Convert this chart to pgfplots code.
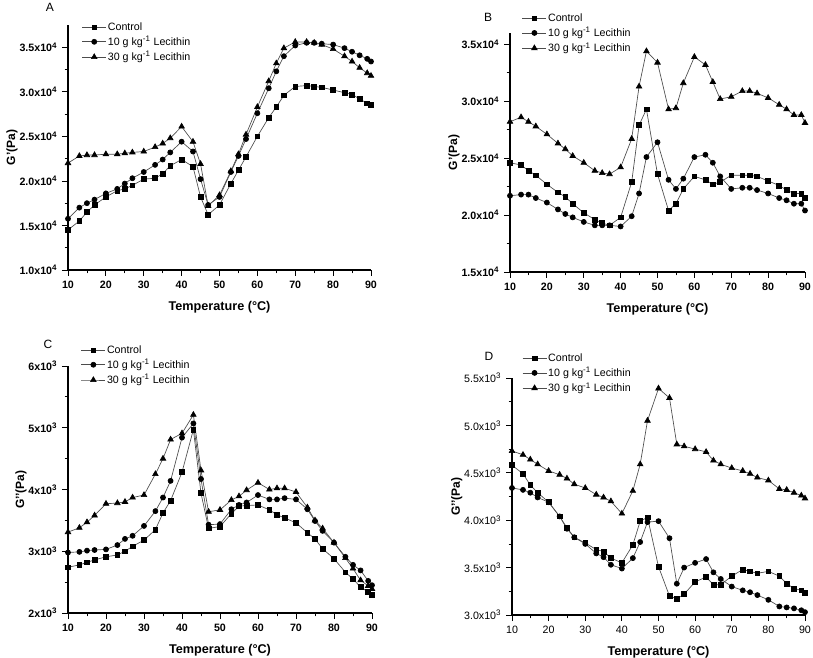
\documentclass[border=0pt]{standalone}
\usepackage{fontspec}
\setmainfont{Liberation Sans}
\usepackage{pgfplots}
\usepackage{pgfplotstable}
\pgfplotsset{compat=1.18}

% G' (Pa): T, control, 10 g/kg, 30 g/kg lecithin
\pgfplotstableread{
T ctrl l10 l30
10 14500 15750 22000
13 15500 17000 22800
15 16500 17500 22900
17 17300 17900 22900
20 18200 18600 23000
23 18900 19100 23000
25 19100 19700 23100
27 19500 20300 23200
30 20200 21000 23300
33 20300 21800 23800
35 20800 22400 24200
37 21700 23200 24800
40 22400 24400 26100
43 21600 23300 24400
45 18200 20200 21900
47 16200 17300 17200
50 17300 18200 18400
53 19700 21000 21100
55 21200 22800 23000
57 22700 24700 25200
60 25000 27600 28300
63 27100 30400 31200
65 28300 32300 33200
67 29600 34000 34900
70 30600 35200 35600
73 30700 35500 35600
75 30600 35500 35500
77 30500 35400 35300
80 30200 35300 34800
83 29900 34900 34000
85 29700 34500 33400
87 29200 34100 32700
89 28700 33700 32100
90 28500 33400 31800
}\dataA

\pgfplotstableread{
T ctrl l10 l30
10 24600 21700 28200
13 24400 21800 28600
15 23900 21800 28200
17 23500 21500 27800
20 22700 21100 27100
23 22000 20500 26300
25 21600 20100 25800
27 21000 19800 25200
30 20200 19400 24600
33 19600 19100 23900
35 19300 19100 23700
37 19100 19100 23600
40 19800 19000 24200
43 22900 19900 26700
45 27900 21900 31300
47 29300 25100 34400
50 23600 26400 33400
53 20400 23100 29300
55 21000 22300 29400
57 22300 23200 31600
60 23400 25100 33900
63 23100 25300 33200
65 22700 24600 31700
67 22900 23400 30200
70 23500 22300 30400
73 23500 22400 30900
75 23500 22400 30900
77 23400 22200 30700
80 23000 21900 30300
83 22600 21500 29700
85 22200 21300 29300
87 21900 21000 28800
89 21900 21000 28800
90 21500 20400 28100
}\dataB

% G'' (Pa)
\pgfplotstableread{
T ctrl l10 l30
10 2740 2980 3310
13 2780 2990 3380
15 2820 3010 3470
17 2860 3020 3580
20 2910 3030 3770
23 2940 3100 3780
25 3000 3200 3800
27 3080 3250 3870
30 3180 3410 3910
33 3350 3650 4250
35 3620 3870 4500
37 3820 4140 4810
40 4280 4840 4910
43 4970 5070 5210
45 3940 4170 4310
47 3370 3430 3640
50 3400 3440 3670
53 3610 3680 3830
55 3730 3750 3890
57 3740 3790 3990
60 3750 3910 4110
63 3670 3840 4000
65 3590 3840 4020
67 3540 3860 4020
70 3460 3840 3960
73 3300 3680 3710
75 3200 3490 3500
77 3040 3330 3370
80 2880 3140 3140
83 2660 2910 2890
85 2550 2780 2720
87 2420 2690 2530
89 2340 2520 2440
90 2290 2450 2390
}\dataC

\pgfplotstableread{
T ctrl l10 l30
10 4580 4340 4730
13 4490 4320 4690
15 4370 4290 4640
17 4290 4240 4590
20 4190 4190 4520
23 4040 4040 4480
25 3920 3910 4440
27 3820 3820 4380
30 3760 3750 4340
33 3690 3650 4270
35 3670 3610 4240
37 3600 3530 4200
40 3550 3490 4070
43 3740 3600 4310
45 3990 3770 4590
47 4030 3980 5050
50 3510 3990 5390
53 3200 3810 5290
55 3170 3330 4800
57 3220 3500 4780
60 3350 3550 4750
63 3400 3590 4720
65 3320 3450 4630
67 3320 3380 4590
70 3410 3300 4550
73 3480 3260 4520
75 3460 3240 4490
77 3440 3210 4450
80 3460 3160 4420
83 3410 3090 4330
85 3330 3080 4320
87 3280 3070 4290
89 3260 3050 4260
90 3230 3030 4230
}\dataD

\newcommand{\lab}{\fontsize{8}{9}\selectfont}
\pgfplotsset{
  panel/.style={
    scale only axis, anchor=south west,
    axis lines*=left,
    xmin=10, xmax=90,
    xtick={10,20,...,90},
    xticklabels={10,20,30,40,50,60,70,80,90},
    scaled y ticks=false,
    minor x tick num=1, minor y tick num=1,
    tick align=outside,
    major tick length=4.5pt, minor tick length=2.5pt,
    axis line style={line width=0.8pt},
    every tick/.style={black, line width=0.6pt},
    tick label style={font=\bfseries\lab},
    xlabel={Temperature (°C)},
    xlabel style={font=\bfseries\fontsize{9.5}{11}\selectfont, yshift=-3pt},
    ylabel style={font=\bfseries\fontsize{9}{10}\selectfont, yshift=-5.5pt},
    legend style={draw=none, fill=none, font=\lab, anchor=north west,
      inner sep=0pt, row sep=1pt, nodes={inner sep=1pt}},
    legend cell align=left,
    legend image code/.code={
      \draw[mark repeat=2, mark phase=2, #1]
        plot coordinates {(0pt,0pt) (9pt,0pt) (18pt,0pt)};},
    every axis plot/.append style={line width=0.5pt, black!70,
      mark options={solid, fill=black, draw=black}},
  },
  sq/.style={mark=square*, mark size=1.8pt},
  ci/.style={mark=*, mark size=1.9pt},
  tr/.style={mark=triangle*, mark size=2.4pt},
}

\begin{document}
\begin{tikzpicture}
\path[use as bounding box] (0,0) rectangle (609.75pt,492.75pt);

% A
\begin{axis}[panel, at={(51pt,290.25pt)}, width=227.25pt, height=183.75pt,
  ymin=10000, ymax=37500,
  ytick={10000,15000,20000,25000,30000,35000},
  yticklabels={1.0x10\textsuperscript{4},1.5x10\textsuperscript{4},2.0x10\textsuperscript{4},2.5x10\textsuperscript{4},3.0x10\textsuperscript{4},3.5x10\textsuperscript{4}},
  ylabel={G'(Pa)},
  legend style={at={(axis description cs:0.045,1.017)}},
]
\addplot[sq] table[x=T,y=ctrl] {\dataA};
\addplot[ci] table[x=T,y=l10] {\dataA};
\addplot[tr] table[x=T,y=l30] {\dataA};
\legend{Control, 10 g kg\textsuperscript{-1} Lecithin, 30 g kg\textsuperscript{-1} Lecithin}
\end{axis}

% B
\begin{axis}[panel, at={(382.5pt,288.75pt)}, width=221.25pt, height=179.25pt,
  ymin=15000, ymax=36000,
  ytick={15000,20000,25000,30000,35000},
  yticklabels={1.5x10\textsuperscript{4},2.0x10\textsuperscript{4},2.5x10\textsuperscript{4},3.0x10\textsuperscript{4},3.5x10\textsuperscript{4}},
  ylabel={G'(Pa)},
  legend style={at={(axis description cs:0.04,1.088)}},
]
\addplot[sq] table[x=T,y=ctrl] {\dataB};
\addplot[ci] table[x=T,y=l10] {\dataB};
\addplot[tr] table[x=T,y=l30] {\dataB};
\legend{Control, 10 g kg\textsuperscript{-1} Lecithin, 30 g kg\textsuperscript{-1} Lecithin}
\end{axis}

% C
\begin{axis}[panel, at={(51pt,33pt)}, width=228pt, height=185.25pt,
  ymin=2000, ymax=6000,
  ytick={2000,3000,4000,5000,6000},
  yticklabels={2x10\textsuperscript{3},3x10\textsuperscript{3},4x10\textsuperscript{3},5x10\textsuperscript{3},6x10\textsuperscript{3}},
  ylabel={G{'}{'}(Pa)},
  legend style={at={(axis description cs:0.042,1.09)}},
]
\addplot[sq] table[x=T,y=ctrl] {\dataC};
\addplot[ci] table[x=T,y=l10] {\dataC};
\addplot[tr] table[x=T,y=l30] {\dataC};
\legend{Control, 10 g kg\textsuperscript{-1} Lecithin, 30 g kg\textsuperscript{-1} Lecithin}
\end{axis}

% D
\begin{axis}[panel, at={(384pt,31.5pt)}, width=219.75pt, height=177.75pt,
  ymin=3000, ymax=5500,
  ytick={3000,3500,4000,4500,5000,5500},
  yticklabels={3.0x10\textsuperscript{3},3.5x10\textsuperscript{3},4.0x10\textsuperscript{3},4.5x10\textsuperscript{3},5.0x10\textsuperscript{3},5.5x10\textsuperscript{3}},
  tick label style={font=\lab},
  ylabel={G{'}{'}(Pa)},
  legend style={at={(axis description cs:0.034,1.11)}},
]
\addplot[sq] table[x=T,y=ctrl] {\dataD};
\addplot[ci] table[x=T,y=l10] {\dataD};
\addplot[tr] table[x=T,y=l30] {\dataD};
\legend{Control, 10 g kg\textsuperscript{-1} Lecithin, 30 g kg\textsuperscript{-1} Lecithin}
\end{axis}

\node[font=\fontsize{9}{10}\selectfont] at (37.5pt,487.5pt) {A};
\node[font=\fontsize{9}{10}\selectfont] at (366pt,480pt) {B};
\node[font=\fontsize{9}{10}\selectfont] at (36pt,234.75pt) {C};
\node[font=\fontsize{9}{10}\selectfont] at (366.75pt,225.75pt) {D};
\end{tikzpicture}
\end{document}
